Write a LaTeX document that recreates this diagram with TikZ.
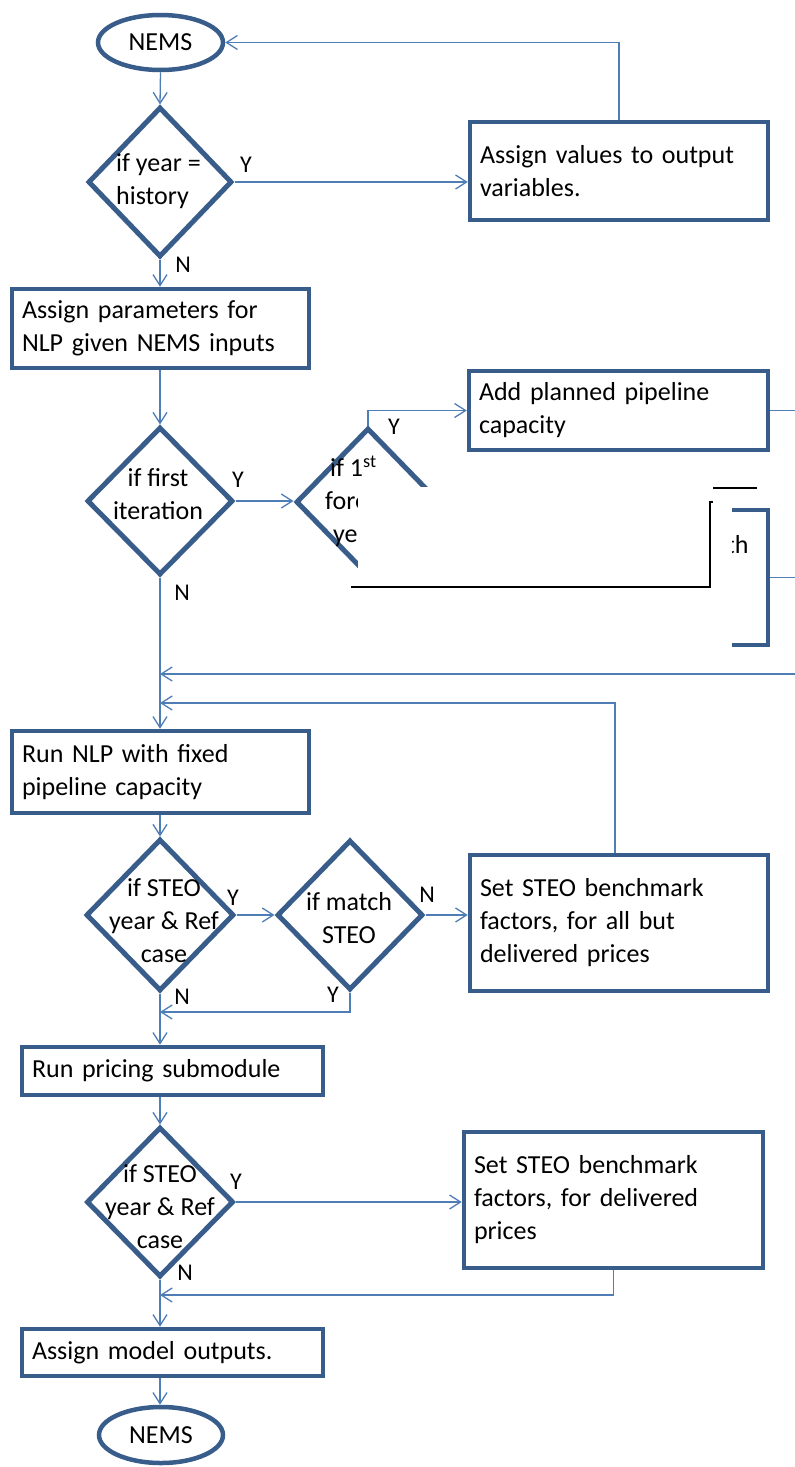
\documentclass[tikz,border=0pt]{standalone}
\usepackage{fontspec}
\setmainfont{Carlito}
\usetikzlibrary{shapes.geometric,arrows.meta}
\definecolor{bord}{RGB}{56,93,138}
\definecolor{lnk}{RGB}{79,125,182}
\begin{document}
\begin{tikzpicture}[x=1pt,y=-1pt,
  every node/.style={font=\fontsize{26}{33}\selectfont},
  box/.style={draw=bord, line width=4.5pt, rectangle, inner xsep=10pt, inner ysep=0pt, align=left},
  dia/.style={draw=bord, line width=5pt, diamond, inner sep=0pt},
  term/.style={draw=bord, line width=4.5pt, ellipse, inner sep=0pt},
  txt/.style={inner sep=0pt, align=center},
  lab/.style={inner sep=0pt, font=\fontsize{24}{28}\selectfont},
  arr/.style={draw=lnk, line width=1.3pt, -{Straight Barb[length=11pt,width=14pt]}},
  plainln/.style={draw=lnk, line width=1.3pt},
  occl/.style={draw=black, line width=2.5pt},
]
\useasboundingbox[fill=white] (0,0) rectangle (795,1467);

% terminals
\node[term, minimum width=125pt, minimum height=55pt] (nems1) at (160.5,42.5) {NEMS};
\node[term, minimum width=124pt, minimum height=56pt] (nems2) at (161,1435) {NEMS};

% boxes
\node[box, minimum width=298pt, minimum height=98pt, text width=278pt] (vals) at (619,171) {Assign values to output\\variables.};
\node[box, minimum width=297pt, minimum height=79pt, text width=277pt] (params) at (160.5,328.5) {Assign parameters for\\NLP given NEMS inputs};
\node[box, minimum width=299pt, minimum height=79pt, text width=279pt] (add) at (618.5,410.5) {Add planned pipeline\\capacity};
\node[box, minimum width=299pt, minimum height=135pt, text width=279pt] (hidden) at (618.5,577.5) {};
\node[anchor=west, inner sep=0pt] (hidtxt) at (726,545) {th};
\node[box, minimum width=297pt, minimum height=82pt, text width=277pt] (runnlp) at (160.5,772) {Run NLP with fixed\\pipeline capacity};
\node[box, minimum width=298pt, minimum height=136pt, text width=278pt] (steo1) at (619,923) {Set STEO benchmark\\factors, for all but\\delivered prices};
\node[box, minimum width=301pt, minimum height=48pt, text width=281pt] (pricing) at (172.5,1071) {Run pricing submodule};
\node[box, minimum width=299pt, minimum height=136pt, text width=279pt] (steo2) at (613.5,1200) {Set STEO benchmark\\factors, for delivered\\prices};
\node[box, minimum width=301pt, minimum height=47pt, text width=281pt] (outputs) at (172.5,1352.5) {Assign model outputs.};

% diamonds
\node[dia, minimum width=144pt, minimum height=150pt] (d1) at (160,182) {};
\node[txt, anchor=west, align=left] (d1t) at (116,181) {if year =\\history};
\node[dia, minimum width=146pt, minimum height=148pt] (d2) at (160,501) {};
\node[txt] (d2t) at (158,494) {if first\\iteration};
\node[dia, minimum width=144pt, minimum height=148pt] (d3) at (368,502) {};
\node[txt, anchor=west, align=left] (d3t) at (325,501) {\hspace{5pt}if 1\textsuperscript{st}\\forecast\\\hspace{8pt}year};
\node[dia, minimum width=148pt, minimum height=152pt] (d4) at (160,915) {};
\node[txt] (d4t) at (164,921) {if STEO\\year \& Ref\\case};
\node[dia, minimum width=146pt, minimum height=150pt] (d5) at (350,915) {};
\node[txt] (d5t) at (349,918) {if match\\STEO};
\node[dia, minimum width=147pt, minimum height=150pt] (d6) at (160,1202) {};
\node[txt] (d6t) at (160,1207) {if STEO\\year \& Ref\\case};

% labels
\node[lab] (y1) at (246,165) {Y};
\node[lab] (n1) at (183,265) {N};
\node[lab] (y2) at (238,480) {Y};
\node[lab] (n2) at (182,593) {N};
\node[lab] (y3) at (394,427) {Y};
\node[lab] (y4) at (233,898) {Y};
\node[lab] (n4) at (182,997) {N};
\node[lab] (n5) at (427,895) {N};
\node[lab] (y5) at (333,995) {Y};
\node[lab] (y6) at (236,1182) {Y};
\node[lab] (n6) at (185,1273) {N};

% free-end coordinates
\coordinate (addR) at (795,410.5);
\coordinate (hidR) at (795,577.5);
\coordinate (botR) at (795,674);
\coordinate (j0) at (160,674);
\coordinate (j1) at (160,703);
\coordinate (j2) at (160,1012);
\coordinate (j3) at (160,1295);

% connectors
\draw[arr] (nems1.south) -- (d1.north);
\draw[arr] (d1.east) -- (d1.east -| vals.west);
\draw[arr] (vals.north) |- (nems1.east);
\draw[arr] (d1.south) -- (d1.south |- params.north);
\draw[arr] (d1.south |- params.south) -- (d2.north);
\draw[arr] (d2.east) -- (d2.east -| d3.west);
\draw[arr] (d3.north) |- (add.west);
\draw[plainln] (add.east) -- (addR);
\draw[plainln] (hidden.east) -- (hidR);
\draw[arr] (botR) -- (j0);
\draw[arr] ([xshift=-4pt]steo1.north) |- (j1);
\draw[arr] (d2.south) -- (d2.south |- runnlp.north);
\draw[arr] (d2.south |- runnlp.south) -- (d4.north);
\draw[arr] (d4.east) -- (d5.west);
\draw[arr] (d5.east) -- (d5.east -| steo1.west);
\draw[arr] (d5.south) |- (j2);
\draw[arr] (d4.south) -- (d4.south |- pricing.north);
\draw[arr] (d6.north |- pricing.south) -- (d6.north);
\draw[arr] (d6.east) -- (d6.east -| steo2.west);
\draw[arr] (steo2.south) |- (j3);
\draw[arr] (d6.south) -- (d6.south |- outputs.north);
\draw[arr] (d6.south |- outputs.south) -- (d6.south |- nems2.north);

% occluding patch
\fill[white] (358,487) rectangle (732,650);
\draw[occl] (351,587) -- (710,587) -- (710,502) -- (713,502);
\draw[occl] (713,488) -- (757,488);
\end{tikzpicture}
\end{document}
